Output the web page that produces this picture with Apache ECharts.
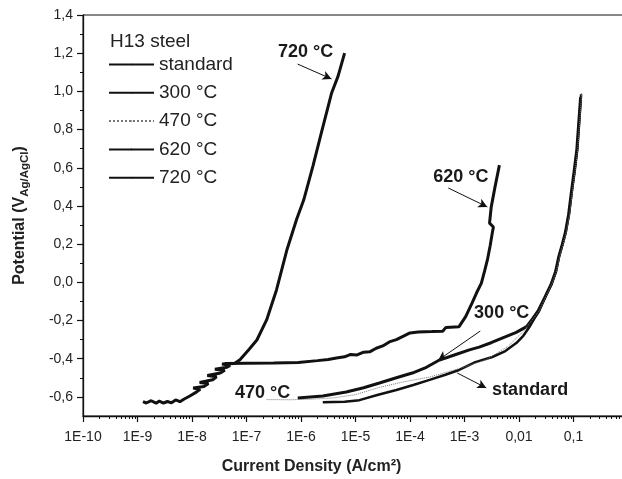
<!DOCTYPE html>
<html><head><meta charset="utf-8">
<script src="https://cdn.jsdelivr.net/npm/echarts@6/dist/echarts.min.js"></script>
<style>html,body{margin:0;padding:0;background:#fff}#c{width:622px;height:479px}</style>
</head><body><div id="c"></div>
<script>
const FONT = '"Liberation Sans", Arial, Helvetica, sans-serif';
const INK = '#111';

// Current density (A/cm2) and potential (V vs Ag/AgCl)
const std_I = [2.51e-6,6.31e-6,1.18e-5,2.51e-5,5.62e-5,1.15e-4,2.29e-4,4.47e-4,7.94e-4,1.58e-3,3.24e-3,5.62e-3,8.91e-3,1.20e-2,1.55e-2,1.91e-2,2.34e-2,3.16e-2,3.98e-2,4.79e-2,5.50e-2,6.31e-2,7.24e-2,8.32e-2,9.33e-2,0.105,0.118,0.138];
const std_V = [-0.628,-0.625,-0.617,-0.59,-0.564,-0.538,-0.511,-0.484,-0.459,-0.418,-0.391,-0.36,-0.318,-0.28,-0.234,-0.19,-0.15,-0.068,-0.008,0.058,0.14,0.2,0.265,0.36,0.475,0.58,0.7,0.985];

const t300_I = [8.71e-7,2.51e-6,6.76e-6,1.41e-5,2.75e-5,5.62e-5,1.10e-4,2.00e-4,3.47e-4,6.31e-4,1.23e-3,1.86e-3,3.16e-3,4.90e-3,8.91e-3,1.38e-2,1.78e-2,2.24e-2,3.02e-2,3.89e-2,4.68e-2,5.37e-2,6.17e-2,7.08e-2,8.13e-2,9.12e-2,0.102,0.115,0.135];
const t300_V = [-0.606,-0.595,-0.574,-0.552,-0.527,-0.50,-0.475,-0.445,-0.407,-0.382,-0.354,-0.339,-0.315,-0.292,-0.262,-0.232,-0.19,-0.15,-0.075,-0.01,0.055,0.135,0.195,0.26,0.355,0.47,0.575,0.695,0.97];

const t470_I = [2.34e-7,6.31e-7,1.58e-6,3.98e-6,1.00e-5,2.75e-5,7.94e-5,2.29e-4,7.94e-4,2.51e-3,6.31e-3,1.26e-2,1.82e-2,2.34e-2,3.16e-2,4.07e-2,4.90e-2,5.62e-2,6.46e-2,7.41e-2,8.51e-2,9.55e-2,0.107,0.120,0.141];
const t470_V = [-0.614,-0.615,-0.612,-0.605,-0.588,-0.55,-0.52,-0.496,-0.452,-0.405,-0.335,-0.25,-0.19,-0.15,-0.07,-0.005,0.06,0.14,0.2,0.265,0.36,0.475,0.58,0.7,0.99];

const t620_I = [3.98e-8,1.00e-7,3.16e-7,8.91e-7,2.00e-6,3.16e-6,4.47e-6,6.31e-6,7.94e-6,1.07e-5,1.41e-5,1.82e-5,2.40e-5,3.16e-5,4.17e-5,5.62e-5,7.59e-5,1.00e-4,1.41e-4,2.51e-4,3.98e-4,4.57e-4,7.94e-4,1.05e-3,1.38e-3,1.66e-3,2.04e-3,2.34e-3,2.63e-3,2.95e-3,3.24e-3,3.39e-3,2.88e-3,3.09e-3,3.63e-3,4.37e-3];
const t620_V = [-0.425,-0.424,-0.423,-0.42,-0.41,-0.404,-0.396,-0.39,-0.378,-0.38,-0.366,-0.364,-0.345,-0.333,-0.312,-0.30,-0.282,-0.265,-0.26,-0.258,-0.256,-0.236,-0.232,-0.18,-0.108,-0.056,-0.004,0.06,0.117,0.19,0.26,0.29,0.31,0.394,0.50,0.614];

const t720_I = [1.26e-9,1.45e-9,1.78e-9,2.20e-9,2.51e-9,3.00e-9,3.55e-9,4.20e-9,5.01e-9,6.00e-9,7.08e-9,9.12e-9,1.20e-8,1.41e-8,1.05e-8,1.66e-8,2.00e-8,1.38e-8,2.40e-8,2.82e-8,1.91e-8,3.31e-8,3.98e-8,2.63e-8,4.37e-8,5.01e-8,3.55e-8,6.03e-8,7.59e-8,1.12e-7,1.55e-7,2.34e-7,3.55e-7,5.50e-7,8.32e-7,1.12e-6,1.66e-6,2.40e-6,3.63e-6,4.79e-6,6.31e-6];
const t720_V = [-0.625,-0.632,-0.62,-0.633,-0.622,-0.632,-0.624,-0.631,-0.616,-0.625,-0.612,-0.595,-0.575,-0.56,-0.553,-0.545,-0.53,-0.525,-0.51,-0.495,-0.488,-0.475,-0.46,-0.455,-0.445,-0.435,-0.428,-0.425,-0.405,-0.35,-0.302,-0.197,-0.04,0.169,0.33,0.431,0.61,0.79,0.99,1.08,1.2];

const seriesNames = ['standard','300 °C','470 °C','620 °C','720 °C'];

// Axis ticks and labels
const xTickValues = [1e-10,1e-9,1e-8,1e-7,1e-6,1e-5,1e-4,1e-3,1e-2,1e-1,1];
const xTickLabels = ['1E-10','1E-9','1E-8','1E-7','1E-6','1E-5','1E-4','1E-3','0,01','0,1','1'];
const yTickValues = [-0.6,-0.4,-0.2,0,0.2,0.4,0.6,0.8,1.0,1.2,1.4];
const yTickLabels = ['-0,6','-0,4','-0,2','0,0','0,2','0,4','0,6','0,8','1,0','1,2','1,4'];
const yMinorValues = [-0.5,-0.3,-0.1,0.1,0.3,0.5,0.7,0.9,1.1,1.3];
const xMinorValues = [];
xTickValues.slice(0, 10).forEach(d => { for (let k = 2; k <= 9; k++) xMinorValues.push(d * k); });

// Annotations: text and the data point it sits at; arrows from/to data points
const noteText = ['720 °C','620 °C','300 °C','standard','470 °C'];
const noteAt = [[1.21e-6,1.206],[8.55e-4,0.552],[4.82e-3,-0.161],[1.6e-2,-0.564],[1.98e-7,-0.58]];
const arrowFrom = [[8.67e-7,1.143],[5.04e-4,0.494],[1.95e-3,-0.255],[7.38e-4,-0.475]];
const arrowTo = [[3.63e-6,1.065],[2.62e-3,0.395],[3.31e-4,-0.407],[2.51e-3,-0.553]];

const zip = (a, b) => a.map((v, i) => [v, b[i]]);
const styles = [
  {width: 2.5, type: 'solid', color: INK},
  {width: 3, type: 'solid', color: INK},
  {width: 1, type: 'dotted', color: '#777'},
  {width: 3, type: 'solid', color: INK},
  {width: 3, type: 'solid', color: INK}
];
const dataSets = [zip(std_I,std_V), zip(t300_I,t300_V), zip(t470_I,t470_V), zip(t620_I,t620_V), zip(t720_I,t720_V)];
const drawOrder = [0,1,3,4,2];

const series = drawOrder.map(i => ({
  name: seriesNames[i], type: 'line', data: dataSets[i], showSymbol: false, symbol: 'none',
  lineStyle: styles[i], itemStyle: {color: styles[i].color}, z: i === 2 ? 5 : 3,
  xAxisIndex: 0, yAxisIndex: 0, silent: true
}));
series.push({
  name: 'notes', type: 'line', data: [], xAxisIndex: 0, yAxisIndex: 0, silent: true,
  markPoint: {
    symbol: 'circle', symbolSize: 1, itemStyle: {color: 'rgba(0,0,0,0)'},
    label: {show: true, position: 'inside', color: '#1a1a1a', fontFamily: FONT, fontSize: 18, fontWeight: 'bold', formatter: p => p.name},
    data: noteText.map((t, i) => ({name: t, coord: noteAt[i]}))
  },
  markLine: {
    symbol: ['none','arrow'], symbolSize: [7, 9], silent: true,
    lineStyle: {color: INK, width: 1, type: 'solid'}, label: {show: false},
    data: arrowFrom.map((f, i) => [{coord: f}, {coord: arrowTo[i]}])
  }
});

const chart = echarts.init(document.getElementById('c'), null, {renderer: 'canvas'});
chart.setOption({
  animation: false,
  backgroundColor: '#fff',
  textStyle: {fontFamily: FONT},
  title: {text: 'H13 steel', left: 110, top: 32, padding: 0,
    textStyle: {fontFamily: FONT, fontSize: 19, fontWeight: 'normal', color: '#222'}},
  legend: {
    data: seriesNames, orient: 'vertical', left: 108, top: 55, padding: 0,
    itemWidth: 45, itemHeight: 2, itemGap: 9.3, selectedMode: false,
    textStyle: {fontFamily: FONT, fontSize: 19, color: '#222'}
  },
  grid: {left: 83, top: 15, width: 545, height: 401, show: true, borderColor: INK, borderWidth: 1,
    containLabel: false, outerBoundsMode: 'none'},
  xAxis: [{
    type: 'log', logBase: 10, min: 1e-10, max: 1, position: 'bottom',
    name: 'Current Density (A/cm²)', nameLocation: 'middle', nameGap: 43,
    nameTextStyle: {fontFamily: FONT, fontSize: 16, fontWeight: 'bold', color: '#222', padding: [0, 88, 0, 0]},
    axisLine: {onZero: false, lineStyle: {color: INK, width: 1.3}},
    axisTick: {length: 6, lineStyle: {color: INK, width: 1.2}, customValues: xTickValues},
    axisLabel: {customValues: xTickValues, margin: 14, fontFamily: FONT, fontSize: 14, color: '#222',
      formatter: v => xTickLabels[xTickValues.findIndex(t => Math.abs(Math.log10(t) - Math.log10(v)) < 1e-6)] || ''},
    splitLine: {show: false}, minorTick: {show: false}
  }, {
    type: 'log', logBase: 10, min: 1e-10, max: 1, position: 'bottom',
    axisLine: {show: false, onZero: false},
    axisTick: {length: 3, lineStyle: {color: INK, width: 1}, customValues: xMinorValues},
    axisLabel: {show: false}, splitLine: {show: false}
  }],
  yAxis: [{
    type: 'value', min: -0.7, max: 1.4, position: 'left',
    name: '{a|Potential (V}{s|Ag/AgCl}{a|)}', nameLocation: 'middle', nameGap: 52, nameRotate: 90,
    nameTextStyle: {rich: {
      a: {fontFamily: FONT, fontSize: 16, fontWeight: 'bold', color: '#222', lineHeight: 22, verticalAlign: 'middle'},
      s: {fontFamily: FONT, fontSize: 11.5, fontWeight: 'bold', color: '#222', lineHeight: 22, verticalAlign: 'bottom'}
    }},
    axisLine: {onZero: false, lineStyle: {color: INK, width: 1.3}},
    axisTick: {length: 6, lineStyle: {color: INK, width: 1.2}, customValues: yTickValues},
    axisLabel: {customValues: yTickValues, margin: 10, fontFamily: FONT, fontSize: 14, color: '#222',
      formatter: v => yTickLabels[yTickValues.findIndex(t => Math.abs(t - v) < 1e-6)] || ''},
    splitLine: {show: false}
  }, {
    type: 'value', min: -0.7, max: 1.4, position: 'left',
    axisLine: {show: false, onZero: false},
    axisTick: {length: 3, lineStyle: {color: INK, width: 1}, customValues: yMinorValues},
    axisLabel: {show: false}, splitLine: {show: false}
  }],
  series: series
});
</script></body></html>
